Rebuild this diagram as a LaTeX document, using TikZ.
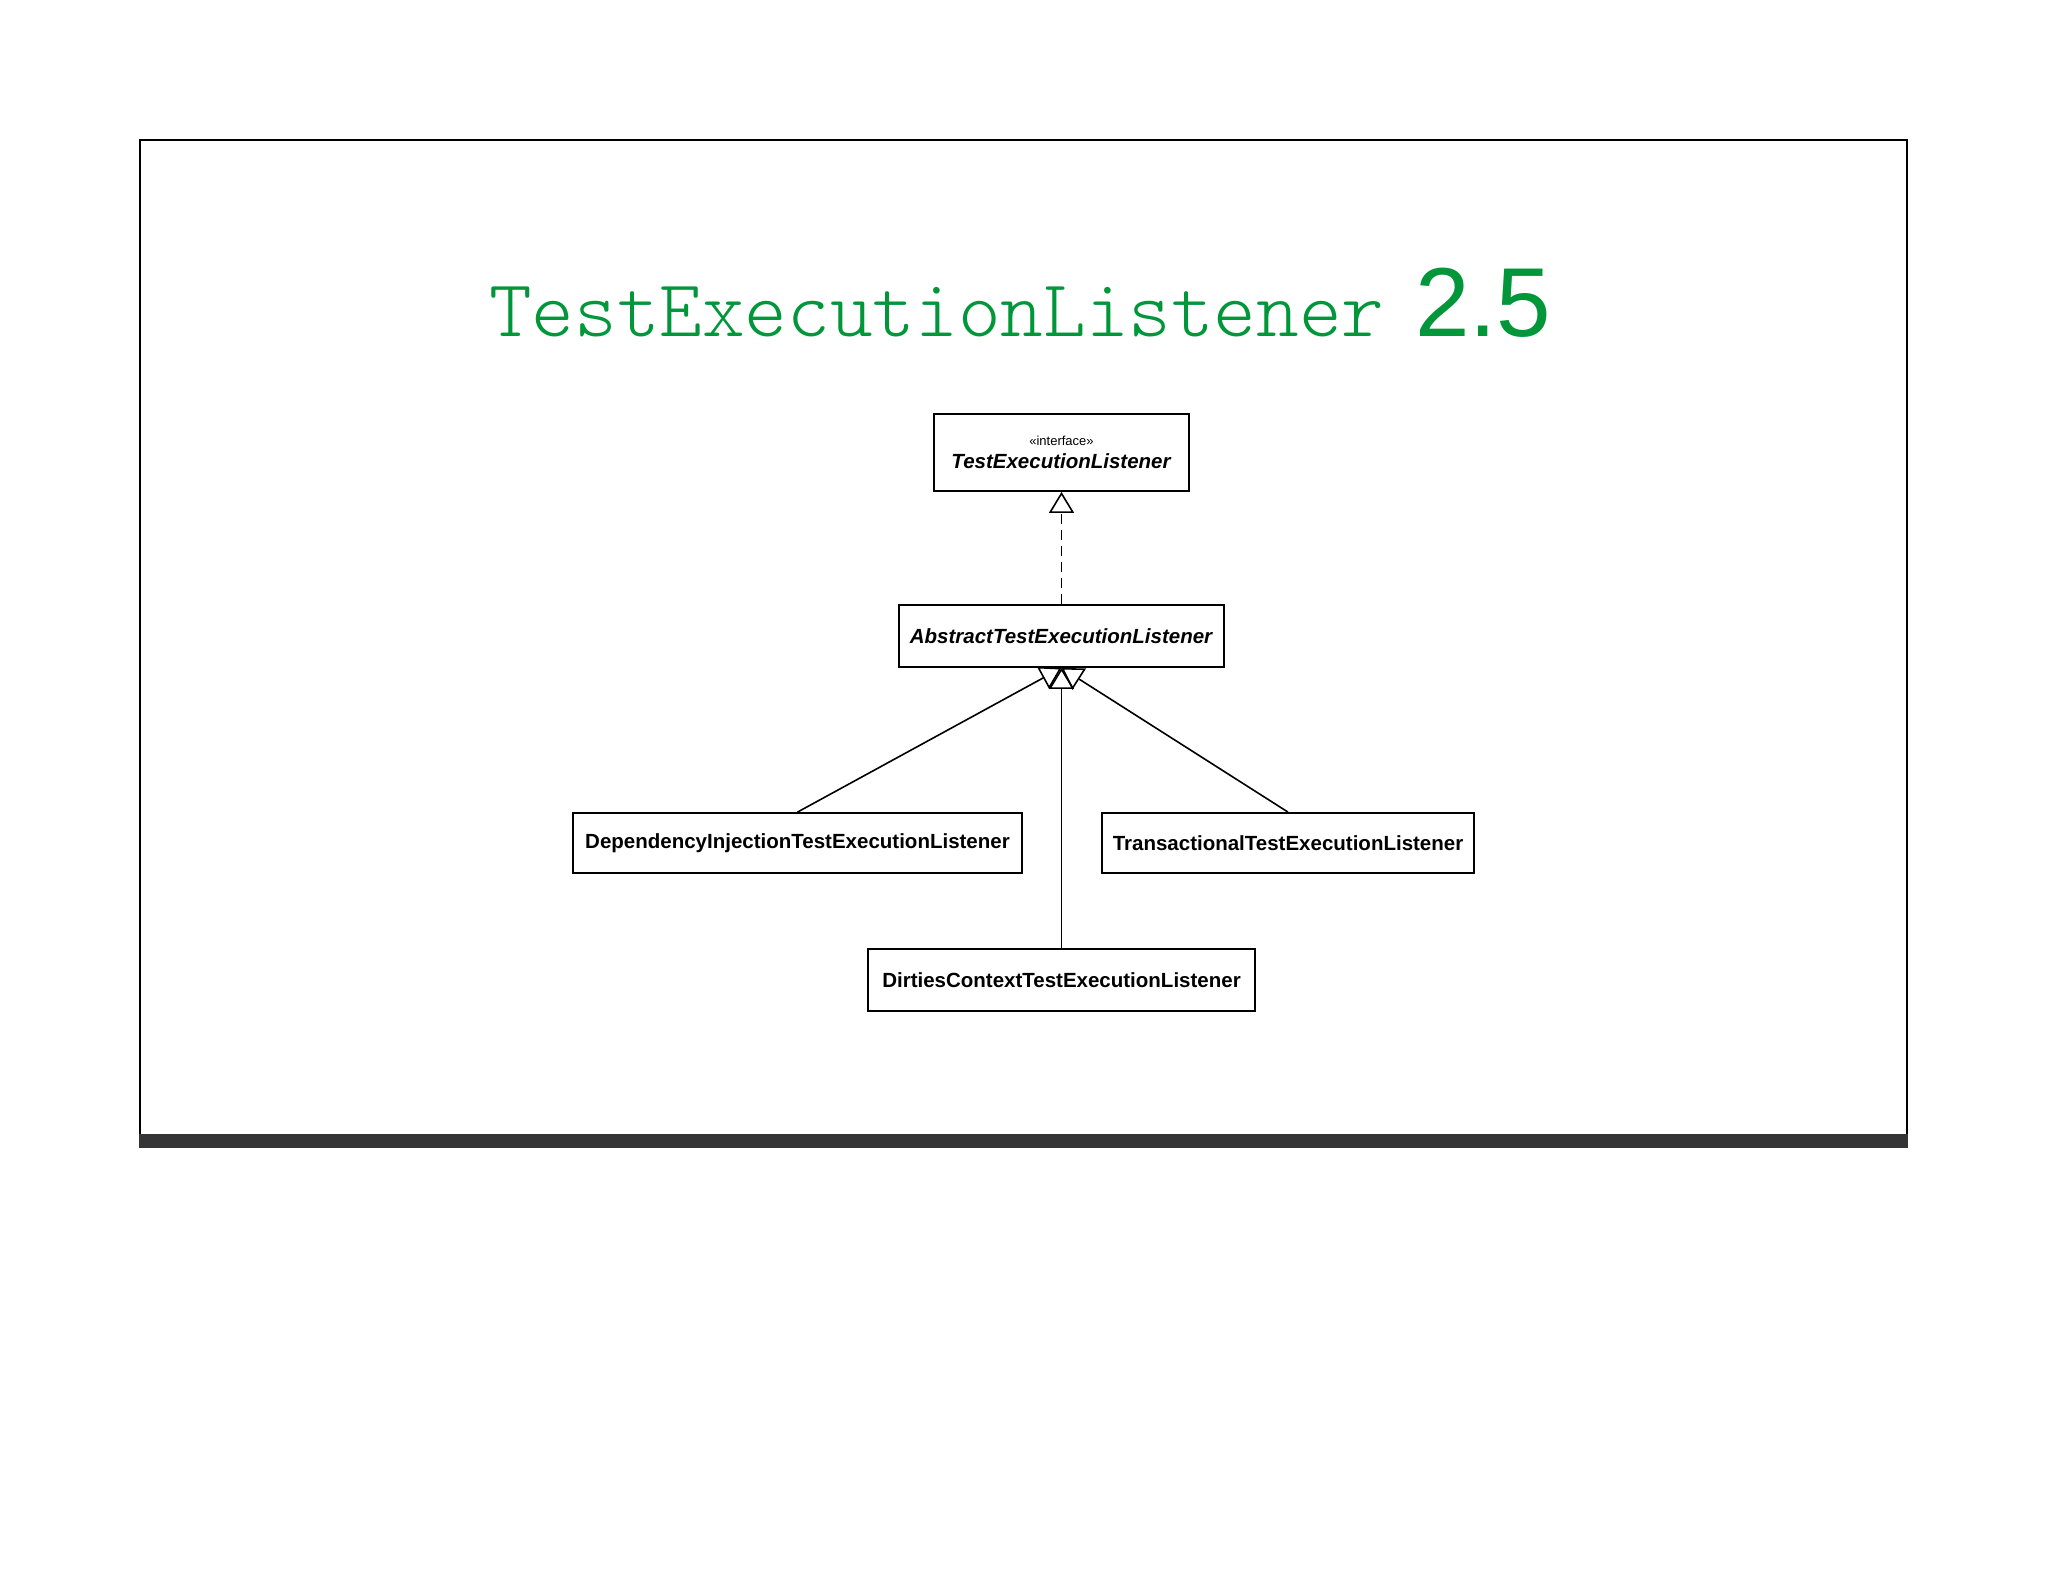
\documentclass[tikz,border=0pt]{standalone}
\usepackage{fontspec}
\setmainfont{Liberation Sans}
\newfontfamily\lightmono{lmmonolt10-regular.otf}
\usetikzlibrary{arrows.meta}
\definecolor{titlegreen}{RGB}{0,150,57}
\definecolor{bargray}{RGB}{52,51,54}
\begin{document}
\begin{tikzpicture}[x=1pt,y=-1pt,
    cls/.style={draw,line width=1.8pt,inner sep=0pt,font=\bfseries\fontsize{20.5}{23}\selectfont},
    real/.style={line width=1.6pt,-{Triangle[open,length=21pt,width=25pt,line width=1.6pt]}}]
    \useasboundingbox(0,0)rectangle(2048,1582);
    % slide frame
    \draw[line width=1.5pt](140,1134)--(140,140)--(1907,140)--(1907,1134);
    \fill[bargray](139,1134)rectangle(1908,1148);
    % title
    \node(title)[anchor=base west,inner sep=0pt,text=titlegreen,font=\lightmono\fontsize{81.2}{90}\selectfont]at(489,336){TestExecutionListener};
    \node(ver)[anchor=base west,inner sep=0pt,text=titlegreen,font=\fontsize{98}{110}\selectfont]at(1415,336){2.5};
    % classes
    \node(tel)[cls,align=center,minimum width=255pt,minimum height=77pt]at(1061.5,452.5){{\mdseries\fontsize{13}{15}\selectfont «interface»}\\\textit{TestExecutionListener}};
    \node(atel)[cls,minimum width=325pt,minimum height=62pt]at(1061.5,636){\textit{AbstractTestExecutionListener}};
    \node(ditel)[cls,minimum width=449pt,minimum height=60pt]at(797.5,843){DependencyInjectionTestExecutionListener};
    \node(ttel)[cls,minimum width=372pt,minimum height=60pt]at(1288,843){TransactionalTestExecutionListener};
    \node(dctel)[cls,minimum width=387pt,minimum height=62pt]at(1061.5,980){DirtiesContextTestExecutionListener};
    % relations
    \draw[real,dash pattern=on 10pt off 6pt](atel)--(tel);
    \draw[real](ditel.north)--(atel.south);
    \draw[real](dctel.north)--(atel.south);
    \draw[real](ttel.north)--(atel.south);
\end{tikzpicture}
\end{document}
